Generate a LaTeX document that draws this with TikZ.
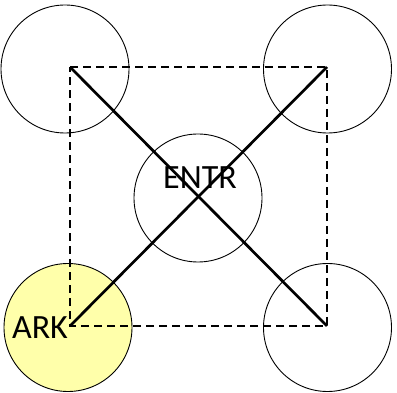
\documentclass[tikz,border=0pt]{standalone}
\usepackage{fontspec}
\setmainfont{Carlito}
\definecolor{paleyellow}{RGB}{255,255,170}
\begin{document}
\begin{tikzpicture}[x=1pt,y=-1pt,
  ring/.style={circle,draw=black,line width=0.9pt,minimum size=128pt,inner sep=0pt},
  diag/.style={line width=2.7pt},
  dashbox/.style={line width=2.3pt,dash pattern=on 8pt off 5pt},
  lbl/.style={font=\fontsize{34}{34}\selectfont,inner sep=0pt,text=black}]
\useasboundingbox (0,0) rectangle (397,393);
\node[ring] (tl) at (65,69) {};
\node[ring] (tr) at (327.5,69) {};
\node[ring] (c) at (198,198) {};
\node[ring,fill=paleyellow] (bl) at (68,327.5) {};
\node[ring] (br) at (327.5,327.5) {};
\coordinate (ptl) at (70,67);
\coordinate (ptr) at (327,67);
\coordinate (pbl) at (70,326);
\coordinate (pbr) at (327,326);
\draw[dashbox] (ptl) -- (ptr) -- (pbr) -- (pbl) -- cycle;
\draw[diag] (ptl) -- (pbr);
\draw[diag] (ptr) -- (pbl);
\node[lbl] (entr) at (200,178) {ENTR};
\node[lbl] (ark) at (40,328) {ARK};
\end{tikzpicture}
\end{document}
